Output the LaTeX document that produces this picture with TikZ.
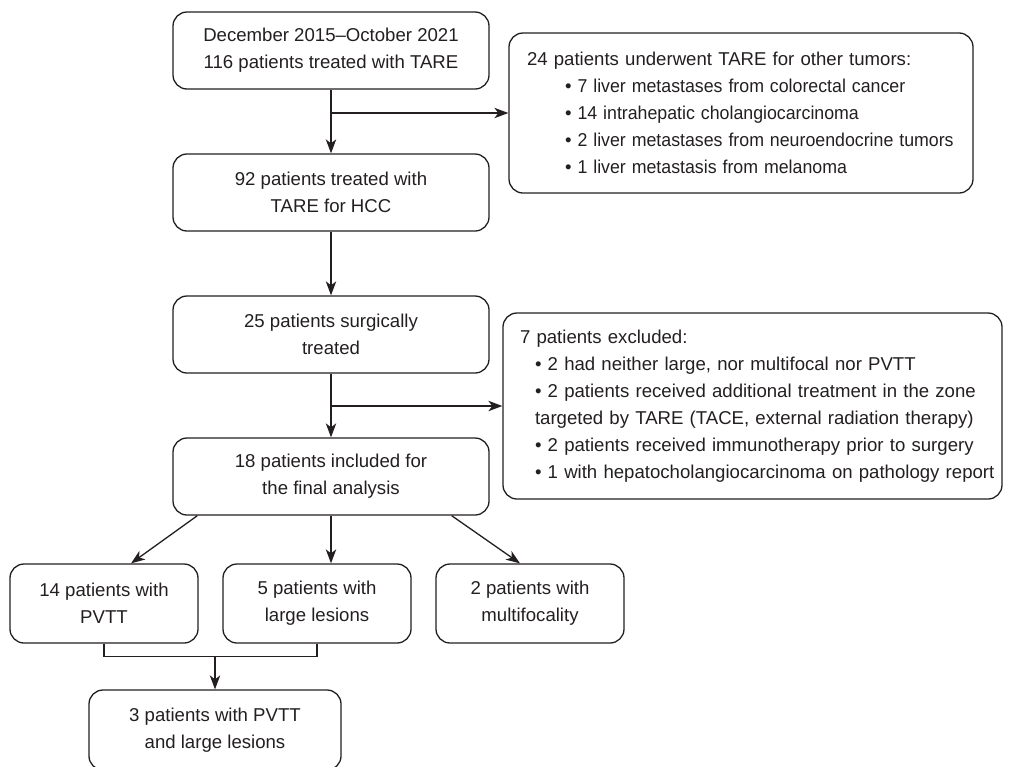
\documentclass[tikz,border=0pt]{standalone}
\usepackage{fontspec}
\setmainfont{Liberation Sans}
\usepackage{xcolor}
\usepackage{graphicx}
\usetikzlibrary{arrows.meta, positioning, calc}
\definecolor{ink}{HTML}{231F20}
\newcommand{\bitem}[2]{\hspace*{#1}\mbox{\textbullet\ #2}}
\newcommand{\sitem}[1]{\hspace*{19pt}\mbox{\textbullet\hspace{3pt}\scalebox{0.955}[1]{#1}}}

\begin{document}
\begin{tikzpicture}[
    x=0.5pt, y=-0.5pt,
    >={Stealth[length=7pt, width=5.2pt, inset=2pt]},
    every node/.style={font=\fontsize{9.3}{13.5}\selectfont, text=ink},
    stage/.style={draw=ink, line width=0.65pt, rounded corners=7pt, align=center, inner sep=0pt, minimum width=158pt, minimum height=38.5pt},
    sub/.style={stage, minimum width=94pt, minimum height=39.5pt},
    note/.style={draw=ink, line width=0.65pt, rounded corners=7pt, align=left, inner ysep=0pt},
    link/.style={draw=ink, line width=0.65pt},
]
    \useasboundingbox (0,0) rectangle (1015,766);

    % Main flow
    \node[stage] (start) at (331,50.5) {December 2015--October 2021\\116 patients treated with TARE};
    \node[stage] (hcc) at (331,192.5) {92 patients treated with\\TARE for HCC};
    \node[stage] (surg) at (331,334.5) {25 patients surgically\\treated};
    \node[stage] (incl) at (331,476.5) {18 patients included for\\the final analysis};

    % Side notes
    \node[note, text width=214pt, inner xsep=9pt, minimum height=80pt] (others) at (741,113)
        {24 patients underwent TARE for other tumors:\\
         \sitem{7 liver metastases from colorectal cancer}\\
         \sitem{14 intrahepatic cholangiocarcinoma}\\
         \sitem{2 liver metastases from neuroendocrine tumors}\\
         \sitem{1 liver metastasis from melanoma}};
    \node[note, text width=232.5pt, inner xsep=8.5pt, minimum height=93pt] (excl) at (752.5,406)
        {7 patients excluded:\\
         \bitem{7.5pt}{2 had neither large, nor multifocal nor PVTT}\\
         \bitem{7.5pt}{2 patients received additional treatment in the zone}\\
         \hspace*{7.5pt}targeted by TARE (TACE, external radiation therapy)\\
         \bitem{7.5pt}{2 patients received immunotherapy prior to surgery}\\
         \bitem{7.5pt}{1 with hepatocholangiocarcinoma on pathology report}};

    % Subgroups
    \node[sub] (pvtt) at (104,603.5) {14 patients with\\PVTT};
    \node[sub] (large) at (317,603.5) {5 patients with\\large lesions};
    \node[sub] (multi) at (530,603.5) {2 patients with\\multifocality};
    \node[stage, minimum width=126pt, minimum height=40pt] (both) at (215,730) {3 patients with PVTT\\and large lesions};

    % Connectors
    \draw[link, ->] (start) -- (hcc);
    \coordinate (j1) at (start.south |- others.west);
    \draw[link, ->] (j1) -- (others.west);
    \draw[link, ->] (hcc) -- (surg);
    \draw[link, ->] (surg) -- (incl);
    \coordinate (j2) at (surg.south |- excl.west);
    \draw[link, ->] (j2) -- (excl.west);

    \draw[link, ->] ([xshift=12.5pt]incl.south west) -- ([xshift=13.5pt]pvtt.north);
    \draw[link, ->] (incl.south) -- (incl.south |- large.north);
    \draw[link, ->] ([xshift=-19pt]incl.south east) -- ([xshift=-5pt]multi.north);

    % Merge
    \coordinate (merge) at ($(pvtt.south)+(0,13)$);
    \draw[link] (pvtt.south) -- (merge) -| (large.south);
    \draw[link, ->] (both.north |- merge) -- (both.north);
\end{tikzpicture}
\end{document}
